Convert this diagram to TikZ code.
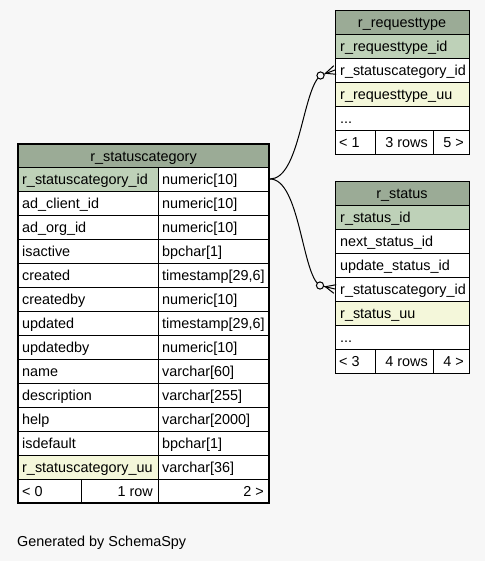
\documentclass[tikz,border=0pt]{standalone}
\usepackage{fontspec}
\setmainfont{Liberation Sans}
\usetikzlibrary{calc}
\definecolor{hdr}{HTML}{9BAB96}
\definecolor{pk}{HTML}{BED1B8}
\definecolor{uu}{HTML}{F4F7DA}
\definecolor{bg}{HTML}{F7F7F7}
\newcommand\mydots{...}
\tikzset{
 cell/.style={draw=black, line width=0.9pt, anchor=north west, inner sep=0pt, outer sep=0pt, minimum height=24pt},
 txt/.style={inner sep=0pt, text height=10.5pt, text depth=3pt, yshift=-1.8pt},
 edge/.style={draw=black, line width=1pt},
}
\begin{document}
\begin{tikzpicture}[x=1pt,y=-1pt, font=\fontsize{14.4}{16}\selectfont]
\fill[bg] (0,0) rectangle (485,561);
\useasboundingbox (0,0) rectangle (485,561);

% ---------- main table ----------
\node[cell, fill=hdr, minimum width=251pt, minimum height=23pt] (m-h) at (18,144) {};
\node[txt] (m-ht) at (m-h.center) {r\_statuscategory};
\foreach \i/\nm/\ty/\fl in {
 1/r\_statuscategory\_id/numeric[10]/pk,
 2/ad\_client\_id/numeric[10]/white,
 3/ad\_org\_id/numeric[10]/white,
 4/isactive/bpchar[1]/white,
 5/created/{timestamp[29,6]}/white,
 6/createdby/numeric[10]/white,
 7/updated/{timestamp[29,6]}/white,
 8/updatedby/numeric[10]/white,
 9/name/varchar[60]/white,
 10/description/varchar[255]/white,
 11/help/varchar[2000]/white,
 12/isdefault/bpchar[1]/white,
 13/r\_statuscategory\_uu/varchar[36]/uu}{
 \node[cell, fill=\fl, minimum width=140pt] (m-\i-n) at (18,{167+24*(\i-1)}) {};
 \node[cell, fill=white, minimum width=111pt] (m-\i-t) at (158,{167+24*(\i-1)}) {};
 \node[txt, anchor=west] (m-\i-nt) at ([xshift=4pt]m-\i-n.west) {\nm};
 \node[txt, anchor=west] (m-\i-tt) at ([xshift=4pt]m-\i-t.west) {\ty};
}
\node[cell, fill=white, minimum width=63pt] (m-f1) at (18,479) {};
\node[cell, fill=white, minimum width=77pt] (m-f2) at (81,479) {};
\node[cell, fill=white, minimum width=111pt] (m-f3) at (158,479) {};
\node[txt, anchor=west] (m-f1t) at ([xshift=4pt]m-f1.west) {< 0};
\node[txt, anchor=east] (m-f2t) at ([xshift=-5pt]m-f2.east) {1 row};
\node[txt, anchor=east] (m-f3t) at ([xshift=-5pt]m-f3.east) {2 >};
\draw[line width=2.6pt] (m-h.north west) rectangle (m-f3.south east);

% ---------- r_requesttype ----------
\node[cell, fill=hdr, minimum width=134pt] (rt-h) at (335,10) {};
\node[txt] (rt-ht) at (rt-h.center) {r\_requesttype};
\foreach \i/\nm/\fl in {1/r\_requesttype\_id/pk, 2/r\_statuscategory\_id/white, 3/r\_requesttype\_uu/uu, 4/\mydots/white}{
 \node[cell, fill=\fl, minimum width=134pt] (rt-\i) at (335,{34+24*(\i-1)}) {};
 \node[txt, anchor=west] (rt-\i t) at ([xshift=5pt]rt-\i.west) {\nm};
}
\node[cell, fill=white, minimum width=40pt] (rt-f1) at (335,130) {};
\node[cell, fill=white, minimum width=58pt] (rt-f2) at (375,130) {};
\node[cell, fill=white, minimum width=36pt] (rt-f3) at (433,130) {};
\node[txt, anchor=west] (rt-f1t) at ([xshift=4pt]rt-f1.west) {< 1};
\node[txt, anchor=east] (rt-f2t) at ([xshift=-5pt]rt-f2.east) {3 rows};
\node[txt, anchor=east] (rt-f3t) at ([xshift=-5pt]rt-f3.east) {5 >};

% ---------- r_status ----------
\node[cell, fill=hdr, minimum width=134pt] (rs-h) at (335,181) {};
\node[txt] (rs-ht) at (rs-h.center) {r\_status};
\foreach \i/\nm/\fl in {1/r\_status\_id/pk, 2/next\_status\_id/white, 3/update\_status\_id/white, 4/r\_statuscategory\_id/white, 5/r\_status\_uu/uu, 6/\mydots/white}{
 \node[cell, fill=\fl, minimum width=134pt] (rs-\i) at (335,{205+24*(\i-1)}) {};
 \node[txt, anchor=west] (rs-\i t) at ([xshift=5pt]rs-\i.west) {\nm};
}
\node[cell, fill=white, minimum width=40pt] (rs-f1) at (335,349) {};
\node[cell, fill=white, minimum width=58pt] (rs-f2) at (375,349) {};
\node[cell, fill=white, minimum width=36pt] (rs-f3) at (433,349) {};
\node[txt, anchor=west] (rs-f1t) at ([xshift=4pt]rs-f1.west) {< 3};
\node[txt, anchor=east] (rs-f2t) at ([xshift=-5pt]rs-f2.east) {4 rows};
\node[txt, anchor=east] (rs-f3t) at ([xshift=-5pt]rs-f3.east) {4 >};

% ---------- connectors ----------
\coordinate (c1) at ($(rt-2.west)+(-14.5,5.5)$);
\coordinate (c2) at ($(rs-4.west)+(-15,-3.5)$);
\draw[edge] ([xshift=1pt]m-1-t.east) .. controls +(30,0) and ($(c1)+(-18,14)$) .. (c1);
\draw[edge] ([xshift=1pt]m-1-t.east) .. controls +(30,0) and ($(c2)+(-18,-10)$) .. (c2);
% crow's foot + odot, top
\draw[edge] (c1) -- (rt-2.west);
\draw[edge] ($(rt-2.west)+(-9.5,3.3)$) -- ($(rt-2.west)+(1.2,4.3)$);
\draw[edge] ($(rt-2.west)+(-9.5,3.3)$) -- ($(rt-2.west)+(-1.2,-4.3)$);
\draw[edge, fill=bg] (c1) circle (3.6pt);
% crow's foot + odot, bottom
\draw[edge] (c2) -- (rs-4.west);
\draw[edge] ($(rs-4.west)+(-9.6,-2.3)$) -- ($(rs-4.west)+(-1.2,4.3)$);
\draw[edge] ($(rs-4.west)+(-9.6,-2.3)$) -- ($(rs-4.west)+(1.2,-4.3)$);
\draw[edge, fill=bg] (c2) circle (3.6pt);

\node[txt, anchor=west] (gen) at (17,541) {Generated by SchemaSpy};
\end{tikzpicture}
\end{document}
